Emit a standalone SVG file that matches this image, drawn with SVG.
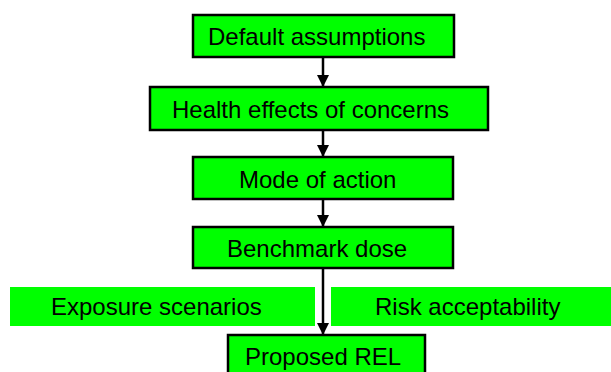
<svg xmlns="http://www.w3.org/2000/svg" width="611" height="372" viewBox="0 0 611 372">
<style>
.box{fill:#00ff00;stroke:#000;stroke-width:2.5}
.band{fill:#00ff00}
.t{font-family:"Liberation Sans",Arial,sans-serif;font-size:24px;fill:#000}
.c{stroke:#000;stroke-width:2.5;fill:none}
</style>
<defs>
<marker id="ah" markerWidth="12" markerHeight="12" refX="12" refY="6" orient="auto" markerUnits="userSpaceOnUse">
<path d="M0,0 L12,6 L0,12 Z" fill="#000"/>
</marker>
</defs>
<rect width="611" height="372" fill="#fff"/>
<g id="exposure">
<rect class="band" x="10" y="287" width="305" height="39"/>
<text class="t" x="51" y="315">Exposure scenarios</text>
</g>
<g id="risk">
<rect class="band" x="331" y="287" width="280" height="39"/>
<text class="t" x="375" y="315">Risk acceptability</text>
</g>
<g id="connectors">
<line class="c" x1="323" y1="57" x2="323" y2="87" marker-end="url(#ah)"/>
<line class="c" x1="323" y1="130" x2="323" y2="157" marker-end="url(#ah)"/>
<line class="c" x1="323" y1="199" x2="323" y2="227" marker-end="url(#ah)"/>
<line class="c" x1="323" y1="268" x2="323" y2="335" marker-end="url(#ah)"/>
</g>
<g id="default">
<rect class="box" x="193" y="15" width="261" height="42"/>
<text class="t" x="208" y="45">Default assumptions</text>
</g>
<g id="health">
<rect class="box" x="150" y="87" width="338" height="43"/>
<text class="t" x="172" y="118">Health effects of concerns</text>
</g>
<g id="mode">
<rect class="box" x="193" y="157" width="260" height="42"/>
<text class="t" x="239" y="188">Mode of action</text>
</g>
<g id="benchmark">
<rect class="box" x="193" y="227" width="260" height="41"/>
<text class="t" x="227" y="257">Benchmark dose</text>
</g>
<g id="proposed">
<rect class="box" x="228" y="335" width="197" height="50"/>
<text class="t" x="245" y="365">Proposed REL</text>
</g>
</svg>
